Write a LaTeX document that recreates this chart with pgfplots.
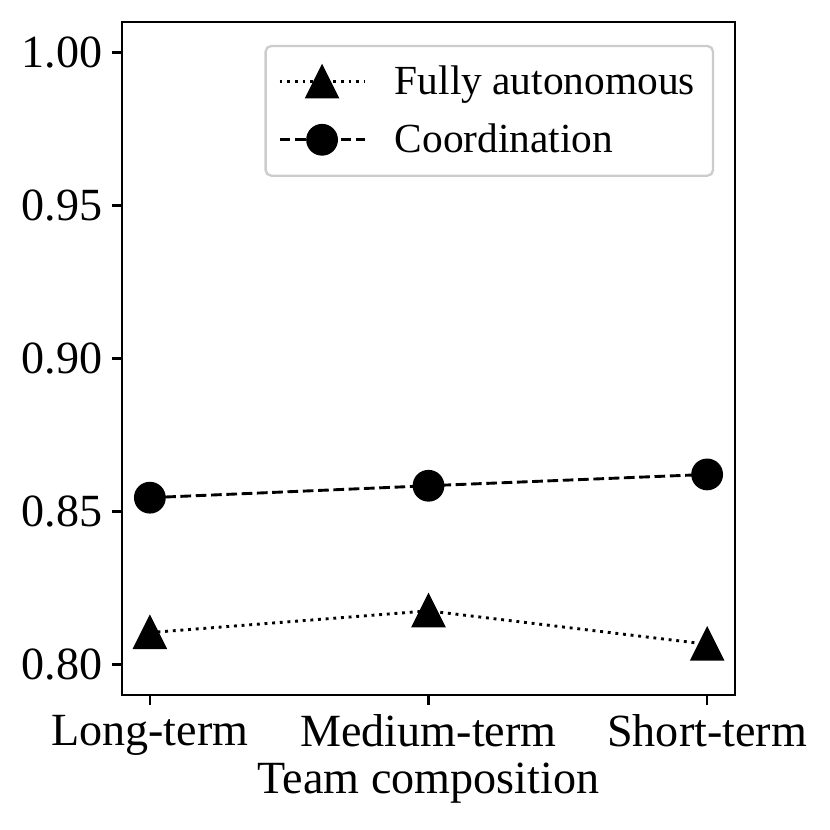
\documentclass[border=0pt]{standalone}
\usepackage{fontspec}
\setmainfont{Liberation Serif}
\usepackage{pgfplots}
\pgfplotsset{compat=1.18}
\begin{document}
\begin{tikzpicture}[x=1pt,y=1pt]
\def\u{0.36}
\path[use as bounding box] (-122*\u,-135*\u) rectangle (708*\u,695*\u);
\begin{axis}[
  scale only axis,
  width=613*0.36pt, height=673*0.36pt,
  xmin=-0.1, xmax=2.1, ymin=0.79, ymax=1.01,
  xtick={0,1,2},
  xticklabels={Long-term,Medium-term,Short-term},
  ytick={0.80,0.85,0.90,0.95,1.00},
  yticklabel style={/pgf/number format/fixed,/pgf/number format/precision=2,/pgf/number format/fixed zerofill},
  /pgf/number format/assume math mode=true,
  tick label style={font=\fontsize{16.6}{19}\selectfont},
  label style={font=\fontsize{16.6}{19}\selectfont},
  xlabel={Team composition},
  xlabel style={yshift=4pt},
  tick align=outside,
  xtick pos=bottom, ytick pos=left,
  major tick length=3.6pt,
  every tick/.style={black, line width=0.83pt},
  axis line style={line width=0.83pt},
  legend style={at={(0.966,0.966)}, anchor=north east, draw=black!20, line width=0.83pt,
    rounded corners=2pt, font=\fontsize{14.9}{17}\selectfont, row sep=5pt,
    inner xsep=4.5pt, inner ysep=5pt},
  legend cell align=left,
  legend image code/.code={\draw[mark repeat=2,mark phase=2,#1] plot coordinates {(0pt,0pt) (15.3pt,0pt) (30.6pt,0pt)};
    \path[draw=none] (0pt,0pt) -- (39.5pt,0pt);},
]
\addplot[black, line width=1.04pt, dash pattern=on 1.04pt off 1.72pt,
  mark=triangle*, mark size=7.2pt,
  mark options={solid, xscale=0.866, yshift=-1.8pt}]
  coordinates {(0,0.8104) (1,0.8175) (2,0.8066)};
\addlegendentry{Fully autonomous}
\addplot[black, line width=1.04pt, dash pattern=on 3.85pt off 1.66pt,
  mark=*, mark size=5.2pt, mark options={solid}]
  coordinates {(0,0.8545) (1,0.8584) (2,0.8621)};
\addlegendentry{Coordination}
\end{axis}
\end{tikzpicture}
\end{document}
